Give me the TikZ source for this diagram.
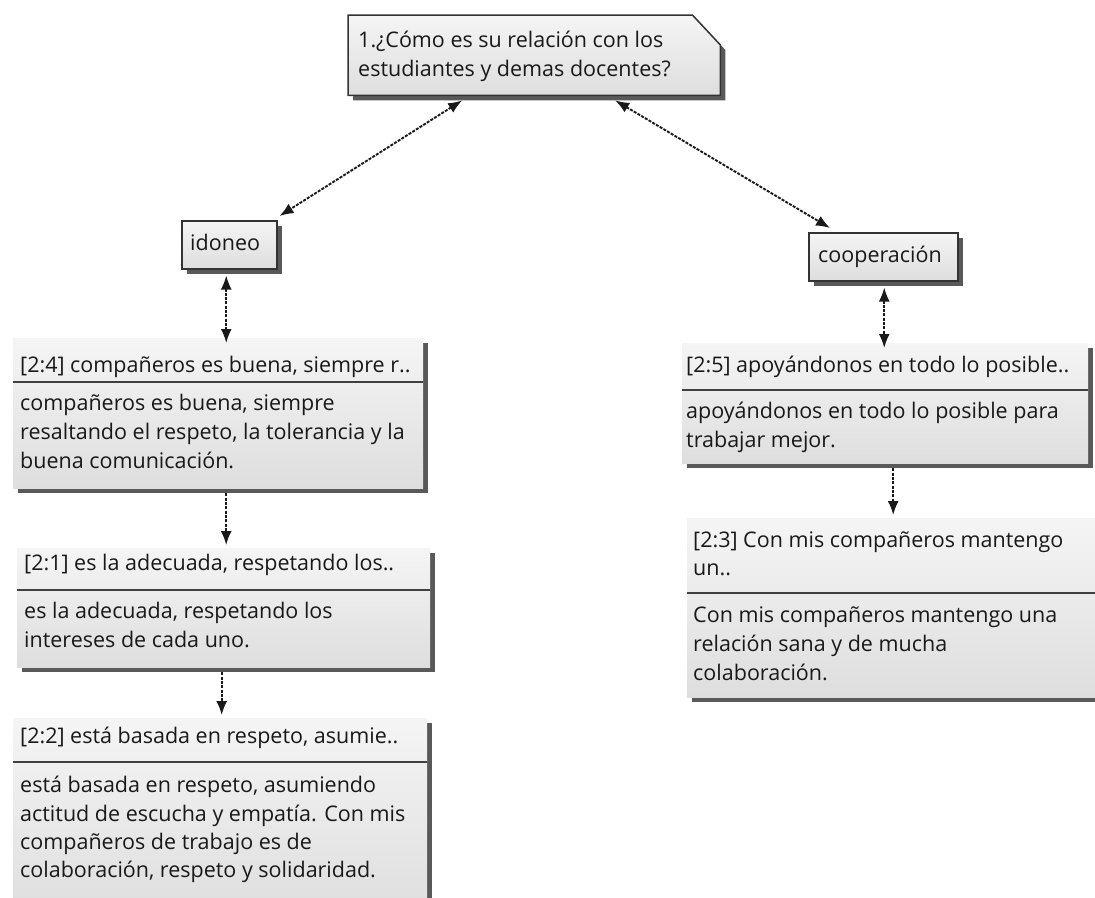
\documentclass[tikz,border=0pt]{standalone}
\usepackage{fontspec}
\setmainfont{Open Sans}
\usetikzlibrary{arrows.meta,shadows}
\begin{document}
\begin{tikzpicture}[x=1pt,y=-1pt,
  boxfill/.style={top color=black!4, bottom color=black!13},
  shad/.style={drop shadow={shadow xshift=5pt,shadow yshift=-5pt,fill=black!65,opacity=1}},
  cbox/.style={boxfill, draw=black!80, line width=1.5pt, shad, anchor=north west, inner sep=0pt},
  qbox/.style={boxfill, draw=none, shad, anchor=north west, inner sep=0pt},
  frame/.style={anchor=north west, inner sep=0pt, draw=none},
  txt/.style={anchor=base west, inner sep=0pt, font=\fontsize{21.5}{28}\selectfont, text=black!90},
  sep/.style={draw=black!75, line width=1.6pt},
  conn/.style={draw=black!90, line width=1.9pt, dash pattern=on 3pt off 1.3pt},
  tip/.tip={Latex[length=14pt,width=11pt]}
]
\useasboundingbox (0,0) rectangle (1095,897);
\fill[white] (0,0) rectangle (1095,897);

% top question node with folded corner
\node[frame, minimum width=372pt, minimum height=80pt] (q) at (348,15) {};
\path[boxfill, draw=black!80, line width=1.5pt, shad]
  (q.north west) -- ([xshift=-28pt]q.north east) -- ([yshift=-30pt]q.north east)
  -- (q.south east) -- (q.south west) -- cycle;
\node[txt] at (358,47) {1.¿Cómo es su relación con los};
\node[txt] at (358,76) {estudiantes y demas docentes?};

% code nodes
\node[cbox, minimum width=95pt, minimum height=48pt] (id) at (181,220) {};
\node[txt] at (190,250) {idoneo};
\node[cbox, minimum width=149pt, minimum height=48pt] (co) at (808,232) {};
\node[txt] at (818,262) {cooperación};

% quotation boxes
\node[qbox, minimum width=410pt, minimum height=150pt] (q24) at (13,338) {};
\draw[sep] (q24.west |- 0,382) -- (q24.east |- 0,382);
\node[txt] at (20,372) {[2:4] compañeros es buena, siempre r..};
\node[txt] at (20,410) {compañeros es buena, siempre};
\node[txt] at (20,439) {resaltando el respeto, la tolerancia y la};
\node[txt] at (20,468) {buena comunicación.};

\node[qbox, minimum width=413pt, minimum height=119pt] (q21) at (17,548) {};
\draw[sep] (q21.west |- 0,590) -- (q21.east |- 0,590);
\node[txt] at (24,570) {[2:1] es la adecuada, respetando los..};
\node[txt] at (24,618) {es la adecuada, respetando los};
\node[txt] at (24,647) {intereses de cada uno.};

\node[qbox, minimum width=414pt, minimum height=200pt] (q22) at (13,718) {};
\draw[sep] (q22.west |- 0,762) -- (q22.east |- 0,762);
\node[txt] at (20,743) {[2:2] está basada en respeto, asumie..};
\node[txt] at (20,792) {está basada en respeto, asumiendo};
\node[txt] at (20,821) {actitud de escucha y empatía. Con mis};
\node[txt] at (20,849) {compañeros de trabajo es de};
\node[txt] at (20,877) {colaboración, respeto y solidaridad.};

\node[qbox, minimum width=406pt, minimum height=120pt] (q25) at (682,343) {};
\draw[sep] (q25.west |- 0,390) -- (q25.east |- 0,390);
\node[txt] at (686,372) {[2:5] apoyándonos en todo lo posible..};
\node[txt] at (686,418) {apoyándonos en todo lo posible para};
\node[txt] at (686,447) {trabajar mejor.};

\node[qbox, minimum width=420pt, minimum height=179pt] (q23) at (687,518) {};
\draw[sep] (q23.west |- 0,593) -- (q23.east |- 0,593);
\node[txt] at (693,547) {[2:3] Con mis compañeros mantengo};
\node[txt] at (693,575) {un..};
\node[txt] at (693,622) {Con mis compañeros mantengo una};
\node[txt] at (693,651) {relación sana y de mucha};
\node[txt] at (693,680) {colaboración.};

% connectors
\draw[conn, tip-tip] ([xshift=-72pt,yshift=-5pt]q.south) -- ([xshift=2pt,yshift=4pt]id.north east);
\draw[conn, tip-tip] ([xshift=81pt,yshift=-5pt]q.south) -- ([xshift=22pt,yshift=4pt]co.north west);
\draw[conn, tip-tip] ([xshift=-3pt,yshift=-6pt]id.south) -- ([xshift=-3pt,yshift=-5pt]id.south |- q24.north);
\draw[conn, tip-tip] ([xshift=1pt,yshift=-6pt]co.south) -- ([xshift=1pt,yshift=-5pt]co.south |- q25.north);
\draw[conn, -tip] ([xshift=8pt,yshift=-5pt]q24.south) -- ([xshift=8pt,yshift=3pt]q24.south |- q21.north);
\draw[conn, -tip] ([xshift=-2pt,yshift=-5pt]q21.south) -- ([xshift=-2pt,yshift=3pt]q21.south |- q22.north);
\draw[conn, -tip] ([xshift=8pt,yshift=-5pt]q25.south) -- ([xshift=8pt,yshift=3pt]q25.south |- q23.north);
\end{tikzpicture}
\end{document}
